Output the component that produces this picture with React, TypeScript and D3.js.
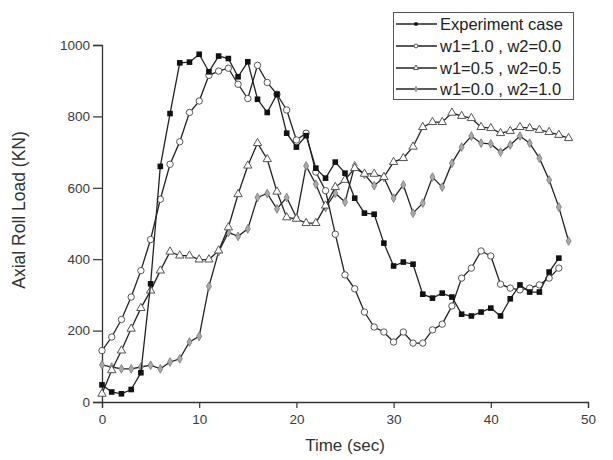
// Axial roll load vs time: experiment and three weighting cases.
import { useEffect, useRef } from "react";
import * as d3 from "d3";

const timeSec = [0, 1, 2, 3, 4, 5, 6, 7, 8, 9, 10, 11, 12, 13, 14, 15, 16, 17, 18, 19, 20, 21, 22, 23, 24,
  25, 26, 27, 28, 29, 30, 31, 32, 33, 34, 35, 36, 37, 38, 39, 40, 41, 42, 43, 44, 45, 46, 47, 48];

const experiment = [48, 28, 23, 35, 82, 331, 660, 808, 950, 952, 974, 925, 969, 962, 911, 953, 848, 811, 862, 753,
  714, 746, 655, 627, 672, 641, 571, 529, 526, 445, 381, 392, 386, 302, 291, 305, 294, 246, 241, 252,
  263, 241, 289, 328, 308, 308, 364, 403];

const w10 = [144, 182, 231, 294, 368, 455, 568, 666, 729, 811, 843, 915, 927, 935, 890, 850, 943, 895, 862, 818,
  734, 753, 644, 592, 470, 356, 317, 252, 210, 196, 168, 196, 165, 165, 202, 218, 269, 347, 375, 423,
  409, 330, 319, 314, 319, 328, 347, 375];

const w05 = [23, 89, 144, 205, 263, 312, 368, 421, 410, 410, 399, 399, 424, 489, 582, 662, 725, 680, 589, 517,
  513, 501, 501, 550, 602, 622, 655, 639, 639, 630, 672, 683, 715, 770, 784, 784, 810, 801, 795, 770,
  767, 753, 759, 770, 767, 762, 756, 748, 739];

const w00 = [104, 98, 93, 93, 98, 103, 93, 112, 121, 168, 184, 324, 421, 475, 464, 485, 573, 584, 541, 573,
  517, 661, 610, 545, 585, 560, 662, 638, 606, 629, 571, 608, 529, 557, 630, 602, 669, 714, 745, 725,
  723, 700, 720, 745, 725, 683, 622, 546, 451];

const seriesNames = ["Experiment case", "w1=1.0 , w2=0.0", "w1=0.5 , w2=0.5", "w1=0.0 , w2=1.0"];
const xTicks = [0, 10, 20, 30, 40, 50];
const yTicks = [0, 200, 400, 600, 800, 1000];

const FONT = "'Liberation Sans', Arial, sans-serif";

export default function App() {
  const svgRef = useRef<SVGSVGElement>(null);

  useEffect(() => {
    const svg = d3.select(svgRef.current);
    svg.selectAll("*").remove();

    const x = d3.scaleLinear().domain([0, 50]).range([102, 588]);
    const y = d3.scaleLinear().domain([0, 1000]).range([402, 45]);

    // axes with minor ticks
    const xAxis = svg.append("g").attr("transform", `translate(0,${y(0)})`);
    xAxis.call(d3.axisBottom(x).tickValues(d3.range(0, 51, 5)).tickSize(5).tickFormat(() => ""));
    xAxis.call(d3.axisBottom(x).tickValues(xTicks).tickSize(6).tickPadding(6).tickFormat(d3.format("d")));
    const yAxis = svg.append("g").attr("transform", `translate(${x(0)},0)`);
    yAxis.call(d3.axisLeft(y).tickValues(d3.range(0, 1001, 100)).tickSize(4).tickFormat(() => ""));
    yAxis.call(d3.axisLeft(y).tickValues(yTicks).tickSize(9).tickPadding(3).tickFormat(d3.format("d")));
    svg.selectAll(".domain").attr("stroke", "#333").attr("stroke-width", 1.3);
    svg.selectAll(".tick line").attr("stroke", "#333").attr("stroke-width", 1.2);
    svg.selectAll(".tick text").attr("font-family", FONT).attr("font-size", 13.5).attr("fill", "#3a3a3a");

    svg.append("text")
      .attr("x", 345).attr("y", 451)
      .attr("text-anchor", "middle")
      .attr("font-family", FONT).attr("font-size", 17).attr("fill", "#333")
      .text("Time (sec)");
    svg.append("text")
      .attr("transform", `translate(25,210) rotate(-90)`)
      .attr("text-anchor", "middle")
      .attr("font-family", FONT).attr("font-size", 17.5).attr("fill", "#333")
      .text("Axial Roll Load (KN)");

    const line = d3.line<number>().x((_, i) => x(timeSec[i])).y(d => y(d));

    const drawMarker = (g: d3.Selection<SVGGElement, unknown, null, undefined>, kind: number, cx: number, cy: number, s = 1) => {
      if (kind === 0) {
        const h = 2.8 * s;
        g.append("rect").attr("x", cx - h).attr("y", cy - h).attr("width", 2 * h).attr("height", 2 * h)
          .attr("fill", "#111");
      } else if (kind === 1) {
        g.append("circle").attr("cx", cx).attr("cy", cy).attr("r", 3.2 * s)
          .attr("fill", "#fff").attr("stroke", "#555").attr("stroke-width", 1);
      } else if (kind === 2) {
        g.append("path").attr("d", d3.symbol(d3.symbolTriangle, 30 * s * s)()!)
          .attr("transform", `translate(${cx},${cy})`)
          .attr("fill", "#fff").attr("stroke", "#555").attr("stroke-width", 1);
      } else {
        g.append("path").attr("d", d3.symbol(d3.symbolDiamond, 22 * s * s)()!)
          .attr("transform", `translate(${cx},${cy})`)
          .attr("fill", "#aaa").attr("stroke", "#777").attr("stroke-width", 0.8);
      }
    };

    const allSeries = [experiment, w10, w05, w00];
    const order = [3, 2, 1, 0];
    order.forEach(k => {
      const data = allSeries[k];
      const g = svg.append("g");
      g.append("path").datum(data).attr("d", line)
        .attr("fill", "none").attr("stroke", "#222").attr("stroke-width", 1.3);
      data.forEach((v, i) => drawMarker(g, k, x(timeSec[i]), y(v)));
    });

    // legend
    const leg = svg.append("g");
    leg.append("rect").attr("x", 393.5).attr("y", 12.5).attr("width", 180).attr("height", 87)
      .attr("fill", "#fff").attr("stroke", "#555").attr("stroke-width", 1);
    const rowY = [24, 46, 68, 89];
    seriesNames.forEach((name, k) => {
      const g = leg.append("g");
      g.append("line").attr("x1", 396).attr("x2", 437).attr("y1", rowY[k]).attr("y2", rowY[k])
        .attr("stroke", "#222").attr("stroke-width", 1.3);
      drawMarker(g, k, 416, rowY[k], 0.6);
      g.append("text").attr("x", 440).attr("y", rowY[k]).attr("dy", "0.36em")
        .attr("font-family", FONT).attr("font-size", 16.5).attr("fill", "#222")
        .text(name);
    });
  }, []);

  return (
    <div style={{ position: "absolute", left: 0, top: 0 }}>
      <svg ref={svgRef} width={613} height={460} style={{ display: "block", background: "#fff" }} />
    </div>
  );
}
